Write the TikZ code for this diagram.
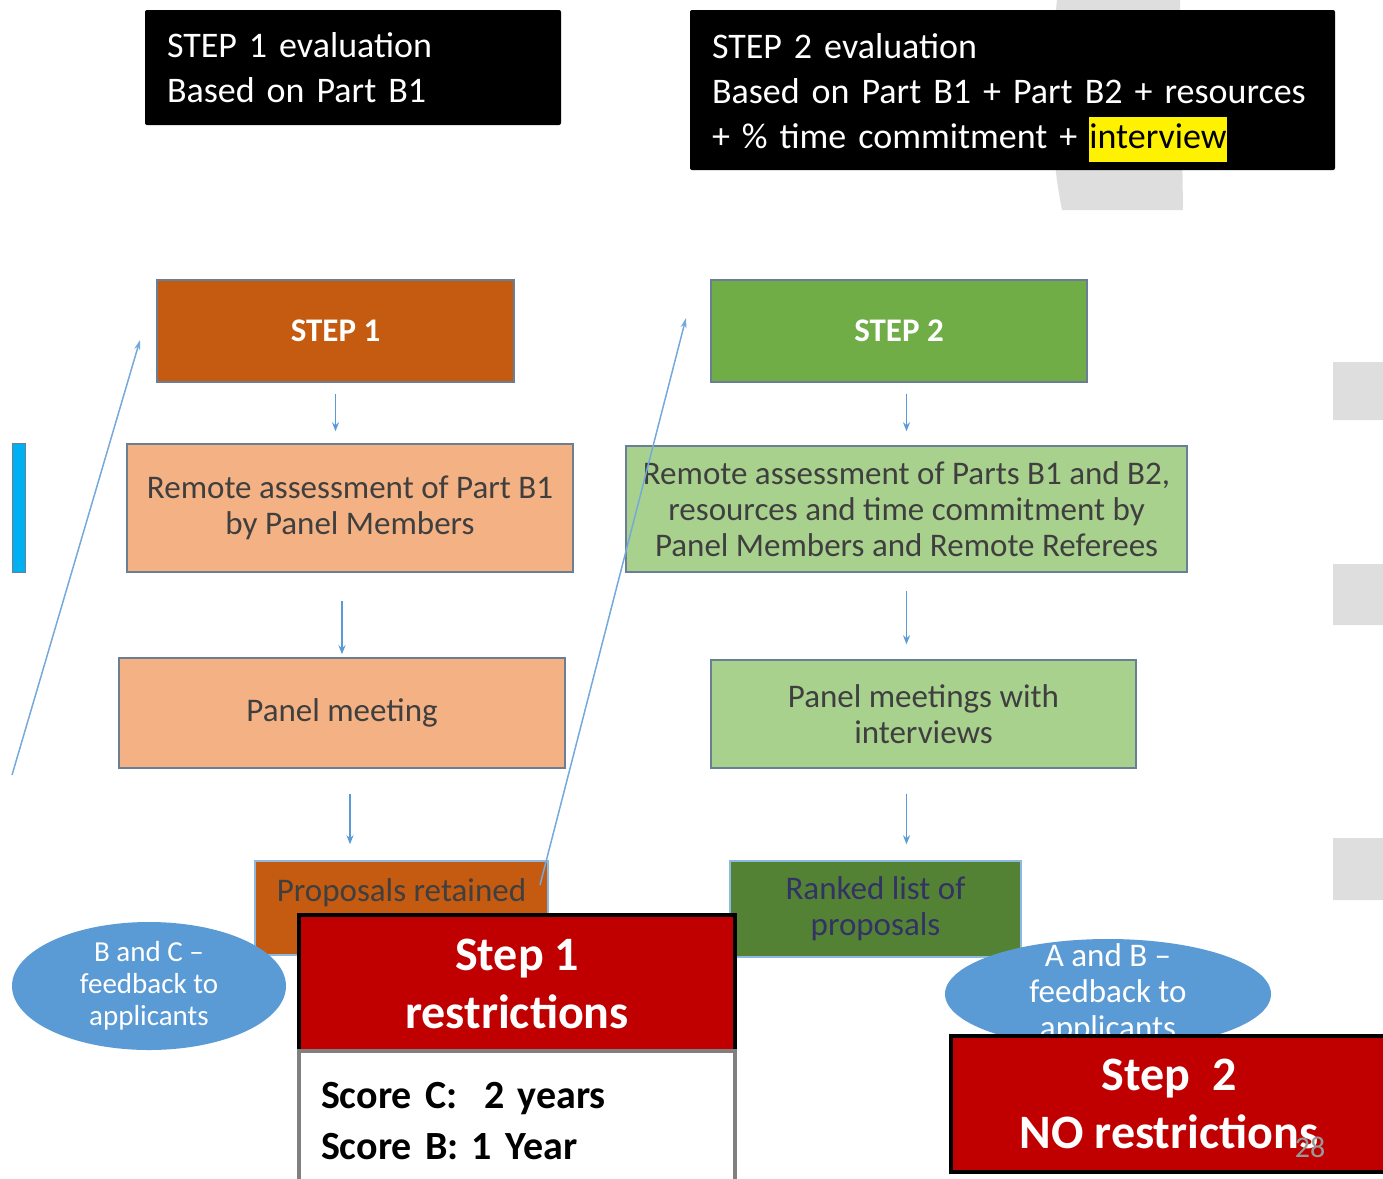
\documentclass[tikz,border=0pt]{standalone}
\usepackage{fontspec}
\setmainfont{Carlito}
\usetikzlibrary{arrows.meta,shapes.geometric}
\definecolor{stepone}{HTML}{C55A11}
\definecolor{steptwo}{HTML}{70AD47}
\definecolor{peach}{HTML}{F4B183}
\definecolor{lightgreen}{HTML}{A9D18E}
\definecolor{darkgreen}{HTML}{548235}
\definecolor{feedblue}{HTML}{5B9BD5}
\definecolor{edgeblue}{HTML}{6A7F95}
\definecolor{barblue}{HTML}{00B0F0}
\definecolor{alertred}{HTML}{C00000}
\definecolor{decogray}{HTML}{DEDEDE}
\definecolor{boxtext}{HTML}{3F3F3F}
\setlength{\fboxsep}{0pt}
\hyphenpenalty=10000
\begin{document}
\begin{tikzpicture}[x=1pt,y=-1pt,
  header/.style={fill=black,rounded corners=2pt,text=white,align=left,inner xsep=22pt,inner ysep=0pt,font=\fontsize{36}{45}\selectfont},
  flowbox/.style={draw=edgeblue,line width=1.5pt,text=boxtext,align=center,inner sep=0pt,font=\fontsize{33}{36}\selectfont},
  stepbox/.style={flowbox,text=white,font=\fontsize{33}{36}\selectfont\bfseries},
  feedback/.style={ellipse,fill=feedblue,text=white,align=center,inner sep=0pt,font=\fontsize{29}{32}\selectfont},
  restrict/.style={draw=black,line width=4pt,fill=alertred,text=white,align=center,inner sep=0pt,font=\fontsize{48}{58}\selectfont\bfseries},
  flowarrow/.style={draw=feedblue,line width=1.5pt,-{Stealth[length=9pt,width=7pt]}},
  longarrow/.style={draw=feedblue!85!white,line width=1.5pt,-{Stealth[length=10pt,width=6pt]}}]
\useasboundingbox (0,0) rectangle (1383,1178);
\clip (0,0) rectangle (1383,1178);

\fill[decogray] (1057,0) .. controls (1048,80) and (1050,150) .. (1062,210) -- (1183,210) -- (1180,0) -- cycle;
\fill[decogray] (1333,362) rectangle (1383,420) (1333,564) rectangle (1383,625) (1333,838) rectangle (1383,900);

\node[header,minimum width=416,minimum height=115,text width=372] (h1) at (353,67.5) {STEP 1 evaluation\\Based on Part B1};
\node[header,minimum width=645,minimum height=160,text width=601] (h2) at (1012.5,90) {\rule{0pt}{40pt}STEP 2 evaluation\\Based on Part B1 + Part B2 + resources\\+ \% time commitment + \colorbox{yellow}{\color{black}\strut interview}};

\fill[barblue,draw=edgeblue] (12,443) rectangle (25,572);

\node[stepbox,fill=stepone,minimum width=357,minimum height=102] (s1) at (335.5,331) {STEP 1};
\node[flowbox,fill=peach,minimum width=446,minimum height=128] (ra1) at (350,508) {Remote assessment of Part B1\\by Panel Members};
\node[flowbox,fill=peach,minimum width=446,minimum height=110] (pm1) at (342,713) {Panel meeting};
\node[flowbox,fill=stepone,draw=feedblue!70!white,minimum width=293,minimum height=94] (pr1) at (401.5,908) {Proposals retained\\\mbox{}};

\node[stepbox,fill=steptwo,minimum width=376,minimum height=102] (s2) at (899,331) {STEP 2};
\node[flowbox,fill=lightgreen,minimum width=561,minimum height=126] (ra2) at (906.5,509) {Remote assessment of Parts B1 and B2,\\resources and time commitment by\\Panel Members and Remote Referees};
\node[flowbox,fill=lightgreen,minimum width=425,minimum height=108] (pm2) at (923.5,714) {Panel meetings with\\interviews};
\node[flowbox,fill=darkgreen,draw=feedblue!70!white,text=boxtext!80!blue,minimum width=291,minimum height=96] (rl2) at (875.5,909) {Ranked list of\\proposals};

\draw[flowarrow,shorten <=11pt,shorten >=12pt] (s1.south) -- (s1.south |- ra1.north);
\draw[flowarrow,shorten <=28pt,shorten >=3pt] (pm1.north |- ra1.south) -- (pm1.north);
\draw[flowarrow,shorten <=25pt,shorten >=16pt] ([xshift=8pt]pm1.south) -- ([xshift=8pt]pm1.south |- pr1.north);
\draw[flowarrow,shorten <=11pt,shorten >=14pt] (ra2.north |- s2.south) -- (ra2.north);
\draw[flowarrow,shorten <=18pt,shorten >=15pt] (ra2.south) -- (ra2.south |- pm2.north);
\draw[flowarrow,shorten <=25pt,shorten >=16pt] (ra2.south |- pm2.south) -- (ra2.south |- rl2.north);

\coordinate (lowleft) at (12,775);
\coordinate (upleft) at (140,340);
\coordinate (retained) at (540,885);
\coordinate (upright) at (686,318);
\draw[longarrow] (lowleft) -- (upleft);
\draw[longarrow] (retained) -- (upright);

\node[feedback,minimum width=274,minimum height=128] (fb1) at (149,986) {B and C --\\feedback to\\applicants};
\node[feedback,minimum width=326,minimum height=110,inner sep=-18pt,font=\fontsize{33}{36}\selectfont] (fb2) at (1108,994) {A and B --\\feedback to\\applicants};

\node[restrict,minimum width=436,minimum height=137] (r1) at (517,983.5) {Step 1\\restrictions};
\node[draw=gray,line width=4pt,fill=white,align=left,inner xsep=20pt,text width=392,minimum width=436,minimum height=140,font=\fontsize{40}{51}\selectfont\bfseries] (sc1) at (517,1121) {Score C:\ \ 2 years\\Score B: 1 Year};
\node[restrict,minimum width=436,minimum height=136] (r2) at (1169,1104) {Step\ \ 2\\NO restrictions};
\node[text=gray!80,inner sep=0pt,font=\fontsize{30}{36}\selectfont] (pg) at (1310,1147) {28};
\end{tikzpicture}
\end{document}
